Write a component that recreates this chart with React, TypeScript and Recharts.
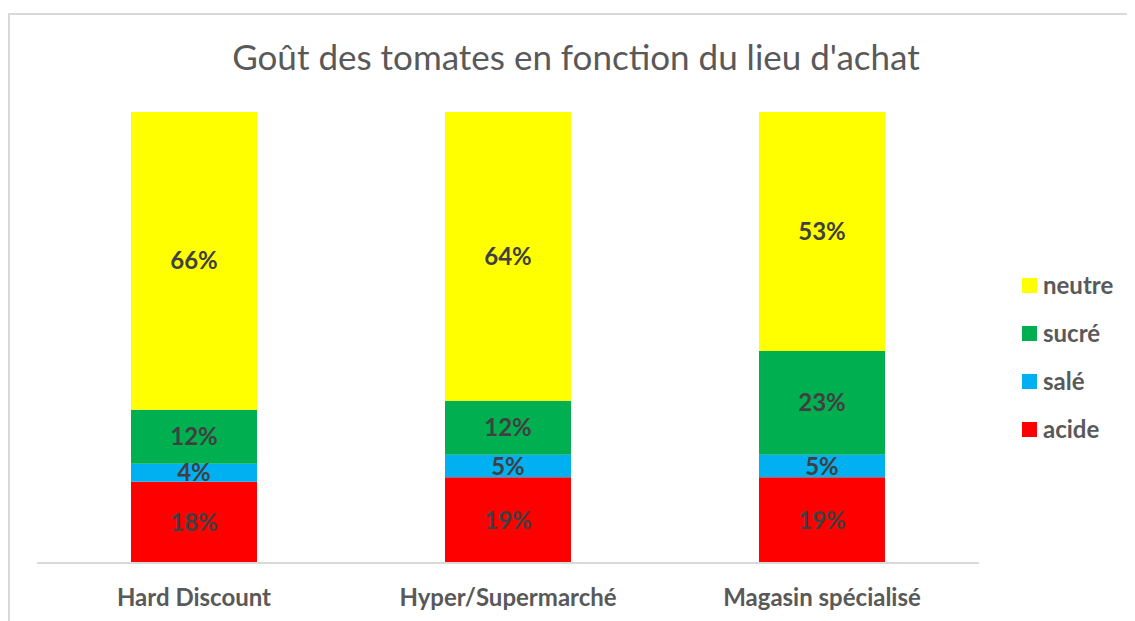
import React from 'react';
import { BarChart, Bar, XAxis, YAxis, LabelList, Legend } from 'recharts';

const categories = ['Hard Discount', 'Hyper/Supermarché', 'Magasin spécialisé'];
const acide = [18, 19, 19];
const sale = [4, 5, 5];
const sucre = [12, 12, 23];
const neutre = [66, 64, 53];

const series = [
  { key: 'acide', name: 'acide', color: '#FF0000' },
  { key: 'sale', name: 'salé', color: '#00B0F0' },
  { key: 'sucre', name: 'sucré', color: '#00B050' },
  { key: 'neutre', name: 'neutre', color: '#FFFF00' },
];

const data = categories.map((c, i) => ({
  name: c,
  acide: acide[i],
  sale: sale[i],
  sucre: sucre[i],
  neutre: neutre[i],
}));

const FONT = 'Lato, "Open Sans", sans-serif';

const renderLegend = () => (
  <div style={{ fontFamily: FONT }}>
    {[...series].reverse().map((s) => (
      <div key={s.key} style={{ display: 'flex', alignItems: 'center', height: 48 }}>
        <div style={{ width: 15, height: 15, background: s.color, marginRight: 6 }} />
        <span style={{ fontSize: 24, fontWeight: 700, color: '#595959', lineHeight: '24px' }}>{s.name}</span>
      </div>
    ))}
  </div>
);

export default function App() {
  return (
    <div style={{ position: 'relative', width: 1127, height: 613, overflow: 'hidden', background: '#fff' }}>
      <div
        style={{
          position: 'absolute',
          left: 0,
          top: 5,
          width: 1200,
          height: 700,
          borderLeft: '2px solid #d9d9d9',
          borderTop: '2px solid #d9d9d9',
          boxSizing: 'border-box',
        }}
      />
      <div
        style={{
          position: 'absolute',
          left: 0,
          width: 1136,
          top: 27,
          textAlign: 'center',
          fontFamily: FONT,
          fontSize: 35,
          color: '#595959',
        }}
      >
        Goût des tomates en fonction du lieu d'achat
      </div>
      <div style={{ position: 'absolute', left: 0, top: 0 }}>
        <BarChart
          width={1127}
          height={613}
          data={data}
          margin={{ top: 104, right: 45, bottom: 8, left: 29 }}
          barSize={126}
        >
          <XAxis
            dataKey="name"
            height={50}
            axisLine={{ stroke: '#d9d9d9', strokeWidth: 2 }}
            tickLine={false}
            tick={{ fill: '#595959', fontSize: 24, fontWeight: 700, fontFamily: FONT }}
            tickMargin={20}
          />
          <YAxis hide domain={[0, 100]} />
          <Legend
            layout="vertical"
            verticalAlign="top"
            align="right"
            content={renderLegend}
            wrapperStyle={{ left: 1014, top: 253, width: 111 }}
          />
          {series.map((s) => (
            <Bar
              key={s.key}
              dataKey={s.key}
              name={s.name}
              stackId="a"
              fill={s.color}
              isAnimationActive={false}
            >
              <LabelList
                dataKey={s.key}
                position="center"
                formatter={(v: number) => `${v}%`}
                fill="#404040"
                fontSize={24}
                fontWeight={700}
                fontFamily={FONT}
              />
            </Bar>
          ))}
        </BarChart>
      </div>
    </div>
  );
}
